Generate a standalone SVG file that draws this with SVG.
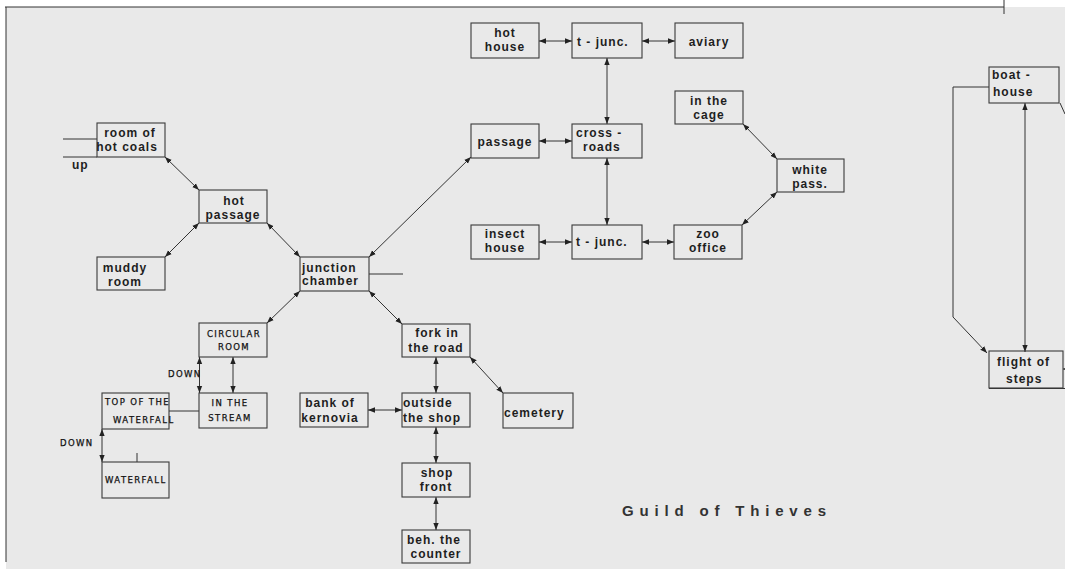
<svg xmlns="http://www.w3.org/2000/svg" width="1065" height="569" viewBox="0 0 1065 569">
<style>
.bx{fill:none;stroke:#3a3a3a;stroke-width:1.1}
.t{font-family:"Liberation Sans",Arial,sans-serif;font-weight:bold;font-size:12px;letter-spacing:1px;fill:#1e1e1e}
.c{text-anchor:middle}
.h{font-family:"DejaVu Sans",sans-serif;font-size:8.5px;letter-spacing:1.4px;fill:#111;stroke:#111;stroke-width:0.25}
.ln{fill:none;stroke:#333;stroke-width:1}
.ar{fill:none;stroke:#333;stroke-width:1;marker-start:url(#ah);marker-end:url(#ah)}
</style>
<defs>
<marker id="ah" viewBox="0 0 10 10" refX="10" refY="5" markerWidth="7" markerHeight="7" markerUnits="userSpaceOnUse" orient="auto-start-reverse"><path d="M0,1.2 L10,5 L0,8.8 z" fill="#222"/></marker>
</defs>
<rect x="0" y="0" width="1065" height="569" fill="#ffffff"/>
<rect x="6" y="7" width="1059" height="562" fill="#e9e9e9"/>
<path d="M5,7 H1004 M6,7 V562 M1004,0 V14" class="ln" stroke="#555"/>

<g id="connectors">
<path class="ar" d="M165,157 L199,190"/>
<path class="ar" d="M199,223 L165,257"/>
<path class="ar" d="M267,223 L300,257"/>
<path class="ar" d="M369,257 L471,157"/>
<path class="ar" d="M300,291 L267,323"/>
<path class="ar" d="M369,291 L402,324"/>
<path class="ar" d="M436,357 L436,393"/>
<path class="ar" d="M470,357 L503,393"/>
<path class="ar" d="M368,410 L402,410"/>
<path class="ar" d="M436,427 L436,463"/>
<path class="ar" d="M436,497 L436,530"/>
<path class="ar" d="M199.5,357 L199.5,393"/>
<path class="ar" d="M233,357 L233,393"/>
<path class="ar" d="M102,429 L102,462"/>
<path class="ln" d="M169,411 L199,411"/>
<path class="ln" d="M137,453 L137,462"/>
<path class="ln" d="M63,139 L97,139"/>
<path class="ln" d="M63,157 L97,157"/>
<path class="ln" d="M369,274 L403,274"/>
<path class="ar" d="M539,141 L572,141"/>
<path class="ar" d="M539,41 L572,41"/>
<path class="ar" d="M642,41 L675,41"/>
<path class="ar" d="M607,58 L607,124"/>
<path class="ar" d="M607,158 L607,225"/>
<path class="ar" d="M539,242 L572,242"/>
<path class="ar" d="M642,242 L674,242"/>
<path class="ar" d="M742,225 L777,192"/>
<path class="ar" d="M743,124 L777,159"/>
<path class="ln" d="M989,87 L953,87 L953,317 L987,353" marker-end="url(#ah)"/>
<path class="ar" d="M1025,103 L1025,352"/>
<path class="ln" d="M1060,103 L1065,114"/>
<path class="ln" d="M1065,369 L1063,369" marker-end="url(#ah)"/>
<path class="ln" d="M989,388.5 L1065,388.5"/>
</g>

<g id="room-of-hot-coals"><rect class="bx" x="97" y="123" width="68" height="34"/><text class="t c" x="130" y="137">room of</text><text class="t c" x="127" y="151">hot coals</text></g>
<text class="t" x="72" y="169" font-size="10">up</text>
<g id="hot-passage"><rect class="bx" x="199" y="190" width="68" height="33"/><text class="t c" x="234" y="205">hot</text><text class="t c" x="233" y="219">passage</text></g>
<g id="muddy-room"><rect class="bx" x="97" y="257" width="68" height="33"/><text class="t c" x="125" y="272">muddy</text><text class="t c" x="125" y="286">room</text></g>
<g id="junction-chamber"><rect class="bx" x="300" y="257" width="69" height="34"/><text class="t" x="302" y="272">junction</text><text class="t" x="302" y="285">chamber</text></g>
<g id="circular-room"><rect class="bx" x="199" y="323" width="68" height="34"/><text class="h c" x="234" y="337">CIRCULAR</text><text class="h c" x="234" y="350">ROOM</text></g>
<text class="h" x="168" y="377" font-size="7" letter-spacing="0.8">DOWN</text>
<g id="in-the-stream"><rect class="bx" x="199" y="393" width="68" height="35"/><text class="h c" x="230" y="406">IN THE</text><text class="h c" x="230" y="421">STREAM</text></g>
<g id="top-of-the-waterfall"><rect class="bx" x="102" y="393" width="67" height="36"/><text class="h" x="105" y="405" font-size="7.5" letter-spacing="0.6">TOP OF THE</text><text class="h" x="113" y="423" font-size="7.5" letter-spacing="0.3">WATERFALL</text></g>
<text class="h" x="60" y="446" font-size="7" letter-spacing="0.8">DOWN</text>
<g id="waterfall"><rect class="bx" x="102" y="462" width="67" height="36"/><text class="h" x="105" y="483" font-size="7.5" letter-spacing="0.5">WATERFALL</text></g>
<g id="fork-in-the-road"><rect class="bx" x="402" y="324" width="68" height="33"/><text class="t c" x="437" y="337">fork in</text><text class="t c" x="436" y="352">the road</text></g>
<g id="bank-of-kernovia"><rect class="bx" x="300" y="393" width="68" height="34"/><text class="t c" x="330" y="407">bank of</text><text class="t c" x="330" y="422">kernovia</text></g>
<g id="outside-the-shop"><rect class="bx" x="402" y="393" width="68" height="34"/><text class="t" x="403" y="407">outside</text><text class="t" x="403" y="422">the shop</text></g>
<g id="cemetery"><rect class="bx" x="503" y="393" width="70" height="35"/><text class="t" x="504" y="417">cemetery</text></g>
<g id="shop-front"><rect class="bx" x="402" y="463" width="68" height="34"/><text class="t c" x="437" y="477">shop</text><text class="t c" x="436" y="491">front</text></g>
<g id="beh-the-counter"><rect class="bx" x="402" y="530" width="68" height="33"/><text class="t c" x="434" y="544">beh. the</text><text class="t c" x="436" y="558">counter</text></g>
<g id="passage"><rect class="bx" x="471" y="124" width="68" height="34"/><text class="t c" x="505" y="146">passage</text></g>
<g id="cross-roads"><rect class="bx" x="572" y="124" width="70" height="34"/><text class="t" x="576" y="137">cross -</text><text class="t" x="583" y="151">roads</text></g>
<g id="hot-house"><rect class="bx" x="471" y="23" width="68" height="35"/><text class="t c" x="505" y="37">hot</text><text class="t c" x="505" y="51">house</text></g>
<g id="t-junc-top"><rect class="bx" x="572" y="23" width="70" height="35"/><text class="t" x="577" y="46">t - junc.</text></g>
<g id="aviary"><rect class="bx" x="675" y="23" width="68" height="35"/><text class="t c" x="709" y="46">aviary</text></g>
<g id="in-the-cage"><rect class="bx" x="675" y="91" width="68" height="33"/><text class="t c" x="709" y="105">in the</text><text class="t c" x="709" y="119">cage</text></g>
<g id="white-pass"><rect class="bx" x="777" y="159" width="67" height="33"/><text class="t c" x="810" y="174">white</text><text class="t c" x="810" y="188">pass.</text></g>
<g id="insect-house"><rect class="bx" x="471" y="225" width="68" height="34"/><text class="t c" x="505" y="238">insect</text><text class="t c" x="505" y="252">house</text></g>
<g id="t-junc-bottom"><rect class="bx" x="572" y="225" width="70" height="34"/><text class="t" x="576" y="246">t - junc.</text></g>
<g id="zoo-office"><rect class="bx" x="674" y="225" width="68" height="34"/><text class="t c" x="708" y="238">zoo</text><text class="t c" x="708" y="252">office</text></g>
<g id="boat-house"><rect class="bx" x="989" y="67" width="70" height="36"/><text class="t" x="992" y="79">boat -</text><text class="t" x="993" y="96">house</text></g>
<g id="flight-of-steps"><rect class="bx" x="989" y="351" width="74" height="37"/><text class="t" x="997" y="366">flight of</text><text class="t" x="1006" y="383">steps</text></g>

<text x="622" y="516" font-family="'Liberation Sans',Arial,sans-serif" font-weight="bold" font-size="15" fill="#333" textLength="204" lengthAdjust="spacing">Guild of Thieves</text>
</svg>
